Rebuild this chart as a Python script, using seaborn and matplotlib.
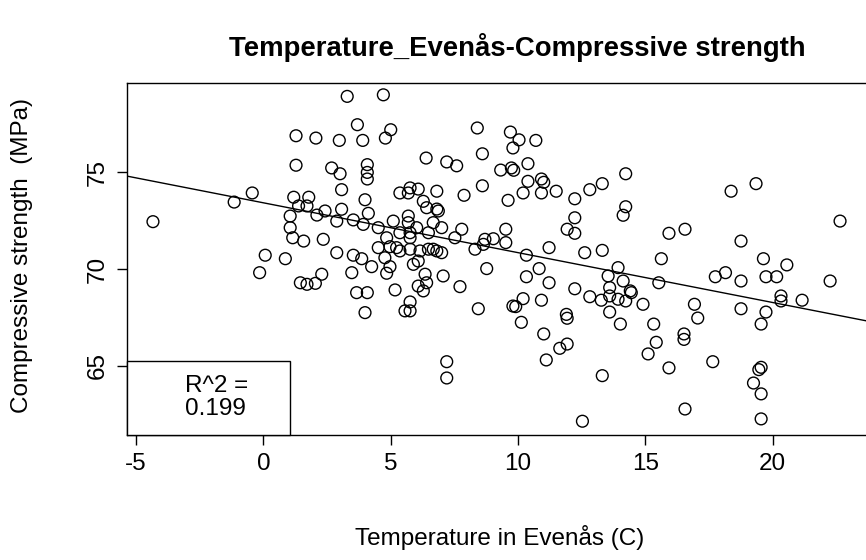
import matplotlib
matplotlib.use("Agg")
import matplotlib.pyplot as plt
import matplotlib.patches as mpatches
import seaborn as sns
import pandas as pd

# ---- data ----
temperature = [
    1.28, 2.06, 1.28, -0.44, -1.15, 1.19, 1.78, 1.38, 1.71, 2.10, 1.05, 1.05, 1.15, 1.58, 0.07, 0.86, -0.15, 1.45, 1.71, 2.04, -4.34,
    3.29, 4.71, 3.69, 5.00, 2.98, 3.90, 4.79, 8.40, 6.39, 7.20, 7.59, 8.60, 9.32, 2.68, 3.01, 4.08, 4.08, 4.08, 3.07, 3.99, 5.36, 5.76, 6.08, 5.69, 6.81, 6.28, 7.88, 8.60,
    9.70, 10.04, 10.70, 9.80, 9.74, 9.83, 10.39, 10.39, 10.92, 11.01, 10.20, 10.92, 11.50, 12.23, 12.82, 13.31, 14.23, 9.61,
    18.37, 19.35,
    6.41, 6.87, 6.81, 3.07, 2.42, 4.12, 2.88, 3.53, 3.92, 4.51, 5.10, 5.69, 5.69, 5.36, 5.76, 5.76, 6.02, 4.84, 6.48, 6.67, 7.00, 7.79, 7.52, 8.70, 9.03, 8.64, 8.31,
    2.35, 4.51, 4.97, 5.23, 4.77, 5.36, 5.76, 6.15, 6.48, 6.67, 6.81, 7.00, 2.88, 3.53, 3.86, 4.25, 4.97, 4.84, 5.89, 6.08, 3.47, 2.29,
    6.35, 6.41, 6.08, 6.28, 7.06, 7.72, 8.77, 5.17, 3.66, 4.08, 5.76, 5.56, 5.76, 3.99, 8.44,
    7.20, 7.20,
    14.23, 14.13, 12.23, 11.93, 12.23, 15.93, 16.56, 9.52, 9.52, 10.33, 11.22, 12.62, 13.31, 15.63, 10.83, 10.33, 11.22, 12.23, 13.54,
    13.93, 14.13, 13.60, 14.41, 14.45, 15.53, 10.20, 9.80, 9.91, 10.92, 12.82, 13.27, 13.60, 13.93, 14.23, 14.91, 13.60, 11.90,
    10.13, 11.93, 14.02, 15.33, 11.01, 11.64, 11.93, 11.11, 15.43, 15.11, 15.93, 16.52, 16.52, 16.56, 13.31, 12.53,
    22.65, 18.76, 19.64, 20.56, 18.15, 17.75, 18.76, 19.74, 20.16, 22.26, 20.33, 20.33, 21.16, 16.93, 18.76, 19.74, 17.06,
    19.55, 17.65, 19.55, 19.46, 19.25, 19.55, 19.55,
]
strength = [
    76.87, 76.75, 75.35, 73.92, 73.45, 73.70, 73.70, 73.25, 73.25, 72.78, 72.73, 72.13, 71.61, 71.44, 70.71, 70.53, 69.81, 69.29, 69.21, 69.26, 72.44,
    78.90, 78.98, 77.44, 77.18, 76.63, 76.63, 76.75, 77.27, 75.72, 75.52, 75.32, 75.94, 75.10, 75.21, 74.91, 75.38, 74.98, 74.64, 74.09, 73.57, 73.92, 74.18, 74.12, 73.92, 74.01, 73.49, 73.80, 74.29,
    77.06, 76.66, 76.63, 76.24, 75.21, 75.09, 75.43, 74.52, 74.64, 74.47, 73.92, 73.92, 74.01, 73.62, 74.09, 74.40, 74.91, 73.54,
    74.01, 74.40,
    73.16, 72.99, 73.09, 73.08, 72.99, 72.87, 72.47, 72.53, 72.30, 72.13, 72.47, 72.73, 72.39, 71.87, 71.87, 71.61, 72.13, 71.61, 71.87, 72.39, 72.13, 72.05, 71.61, 71.53, 71.56, 71.27, 71.02,
    71.53, 71.10, 71.15, 71.10, 70.58, 70.93, 71.02, 70.93, 71.02, 71.02, 70.93, 70.84, 70.84, 70.71, 70.53, 70.12, 70.12, 69.78, 70.24, 70.41, 69.81, 69.73,
    69.73, 69.29, 69.12, 68.87, 69.64, 69.09, 70.02, 68.92, 68.78, 68.78, 68.30, 67.84, 67.84, 67.75, 67.95,
    65.22, 64.38,
    73.21, 72.77, 72.64, 72.05, 71.84, 71.84, 72.05, 72.05, 71.36, 70.71, 71.10, 70.84, 70.96, 70.53, 70.02, 69.60, 69.29, 68.98, 69.64,
    70.07, 69.38, 69.04, 68.87, 68.78, 69.29, 68.47, 68.09, 68.06, 68.39, 68.57, 68.39, 68.61, 68.44, 68.35, 68.18, 67.78, 67.66,
    67.25, 67.46, 67.16, 67.16, 66.65, 65.91, 66.13, 65.31, 66.22, 65.62, 64.90, 66.65, 66.37, 62.78, 64.50, 62.15,
    72.47, 71.44, 70.53, 70.21, 69.81, 69.60, 69.38, 69.60, 69.60, 69.38, 68.61, 68.35, 68.39, 68.18, 67.95, 67.78, 67.47,
    67.16, 65.22, 64.93, 64.81, 64.12, 63.56, 62.27,
]
x_ticks = [-5, 0, 5, 10, 15, 20]
y_ticks = [65, 70, 75]
title = "Temperature_Evenås-Compressive strength"
x_label = "Temperature in Evenås (C)"
y_label = "Compressive strength  (MPa)"
r2_lines = ["R^2 =", "0.199"]

df = pd.DataFrame({"temperature": temperature, "strength": strength})

sns.set_style("white")
plt.rcParams["font.family"] = ["Liberation Sans", "DejaVu Sans"]
plt.rcParams["text.color"] = "black"

FS = 17.5
W, H = 866, 560
fig = plt.figure(figsize=(W / 100, H / 100), dpi=100)
ax = fig.add_axes([127 / W, (H - 435) / H, 780 / W, 352 / H])
ax.set_xlim(-5.36, 25.28)
ax.set_ylim(61.44, 79.59)

sns.scatterplot(data=df, x="temperature", y="strength", ax=ax, marker="o", s=72,
                facecolors="none", edgecolor="black", linewidth=1.0, legend=False, zorder=3)
sns.regplot(data=df, x="temperature", y="strength", ax=ax, scatter=False, ci=None,
            truncate=False, line_kws=dict(color="black", lw=1.0))
ax.set_xlim(-5.36, 25.28)
ax.set_ylim(61.44, 79.59)

for s in ax.spines.values():
    s.set_visible(True)
    s.set_color("black")
    s.set_linewidth(1.0)

ax.set_xticks(x_ticks)
ax.set_yticks(y_ticks)
ax.set_xticklabels([str(v) for v in x_ticks])
ax.set_yticklabels([str(v) for v in y_ticks], rotation=90, va="center")
ax.tick_params(axis="both", direction="out", length=7, width=1, labelsize=FS,
               colors="black", bottom=True, left=True)
ax.tick_params(axis="x", pad=6)
ax.tick_params(axis="y", pad=6)
ax.set_xlabel("")
ax.set_ylabel("")
ax.grid(False)

fig.text(517 / W, 1 - 47 / H, title, ha="center", va="center", fontsize=19.8,
         fontweight="bold", color="black")
fig.text(500 / W, 1 - 537 / H, x_label, ha="center", va="center", fontsize=FS, color="black")
fig.text(22 / W, 1 - 256 / H, y_label, ha="center", va="center", rotation=90, fontsize=FS,
         color="black")

box = mpatches.Rectangle((127 / W, (H - 435) / H), 163 / W, 74.3 / H, transform=fig.transFigure,
                         facecolor="white", edgecolor="black", lw=1.0, zorder=5)
fig.patches.append(box)
fig.text(185 / W, 1 - 386 / H, r2_lines[0], ha="left", va="center", fontsize=FS, zorder=6, color="black")
fig.text(185 / W, 1 - 409 / H, r2_lines[1], ha="left", va="center", fontsize=FS, zorder=6, color="black")

fig.savefig("out.png", dpi=100)
